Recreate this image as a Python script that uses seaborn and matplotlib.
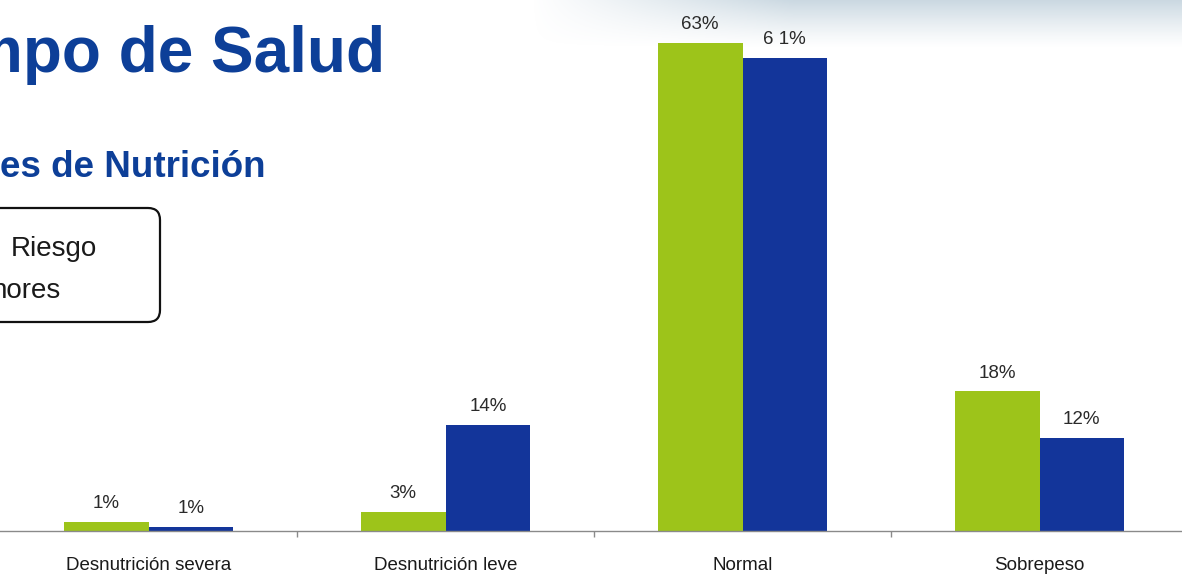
import numpy as np
import pandas as pd
import matplotlib
matplotlib.use("Agg")
import matplotlib.pyplot as plt
from matplotlib.patches import FancyBboxPatch
import seaborn as sns

# ---- data ----
categories = ["Desnutrición severa", "Desnutrición leve", "Normal", "Sobrepeso"]
series_names = ["Serie 1", "Serie 2"]
green_values = [1.2, 2.5, 63, 18]
blue_values = [0.5, 13.7, 61, 12]
green_labels = ["1%", "3%", "63%", "18%"]
blue_labels = ["1%", "14%", "6 1%", "12%"]
title_text = "mpo de Salud"
subtitle_text = "es de Nutrición"
box_lines = ["Riesgo", "nores"]

GREEN = "#9dc41a"
BLUE = "#13359a"
TITLE_BLUE = "#0d3f98"

df = pd.DataFrame({
    "categoria": categories * 2,
    "serie": [series_names[0]] * 4 + [series_names[1]] * 4,
    "valor": green_values + blue_values,
})

sns.set_theme(style="white")
plt.rcParams["font.family"] = ["Liberation Sans", "DejaVu Sans"]

W, H = 1182, 575
fig = plt.figure(figsize=(W / 100, H / 100), dpi=100)
fig.patch.set_facecolor("white")

# background gradient band (top right)
bg = fig.add_axes([0, 0, 1, 1], zorder=0)
bg.set_xlim(0, W)
bg.set_ylim(H, 0)
bg.axis("off")
nx, ny = 300, 60
xs = np.linspace(0, 1, nx)
ys = np.linspace(0, 1, ny)
hx = np.clip((xs - 0.45) / 0.22, 0, 1)
vy = np.clip(1 - ys, 0, 1) ** 1.2
alpha = np.outer(vy, hx) * 0.6
img = np.zeros((ny, nx, 4))
img[..., 0] = 0.66
img[..., 1] = 0.75
img[..., 2] = 0.81
img[..., 3] = alpha
bg.imshow(img, extent=[0, W, 48, 0], aspect="auto", interpolation="bilinear")

# bar axes
bottom = (H - 531) / H
ax = fig.add_axes([0.0, bottom, 1188 / W, 531 / H], zorder=1)
ax.patch.set_alpha(0)
sns.barplot(data=df, x="categoria", y="valor", hue="serie",
            hue_order=series_names, order=categories,
            palette=[GREEN, BLUE], width=0.57, saturation=1,
            legend=False, ax=ax, linewidth=0)
ax.set_ylim(0, 68.5)
ax.set_xlim(-0.5, 3.5)
ax.set_xlabel("")
ax.set_ylabel("")
ax.set_yticks([])
for s in ["top", "right", "left"]:
    ax.spines[s].set_visible(False)
ax.spines["bottom"].set_color("#8a8a8a")
ax.spines["bottom"].set_linewidth(1.0)
ax.set_xticks(range(len(categories)))
ax.set_xticklabels(categories, fontsize=13.5, color="#1a1a1a")
ax.tick_params(axis="x", length=0, pad=19)
ax.set_xticks([0.5, 1.5, 2.5], minor=True)
ax.tick_params(axis="x", which="minor", length=4, color="#8a8a8a", width=1,
               direction="out", bottom=True)

for cont, labs in zip(ax.containers, [green_labels, blue_labels]):
    ax.bar_label(cont, labels=labs, padding=7, fontsize=13.5, color="#2a2a2a")

# texts
fig.text(385 / W, 1 - 72 / H, title_text, ha="right", va="baseline",
         fontsize=46, fontweight="bold", color=TITLE_BLUE)
fig.text(265 / W, 1 - 177 / H, subtitle_text, ha="right", va="baseline",
         fontsize=26.5, fontweight="bold", color=TITLE_BLUE)

# rounded box (partially off canvas)
box = FancyBboxPatch((-60, 208), 220, 114, boxstyle="round,pad=0,rounding_size=12",
                     linewidth=1.6, edgecolor="#111111", facecolor="white", zorder=2)
bg.add_patch(box)
bg.text(97, 256, box_lines[0], ha="right", va="baseline", fontsize=20, color="#1a1a1a", zorder=3)
bg.text(60, 298, box_lines[1], ha="right", va="baseline", fontsize=20, color="#1a1a1a", zorder=3)

fig.savefig("out.png", dpi=100, facecolor="white")
